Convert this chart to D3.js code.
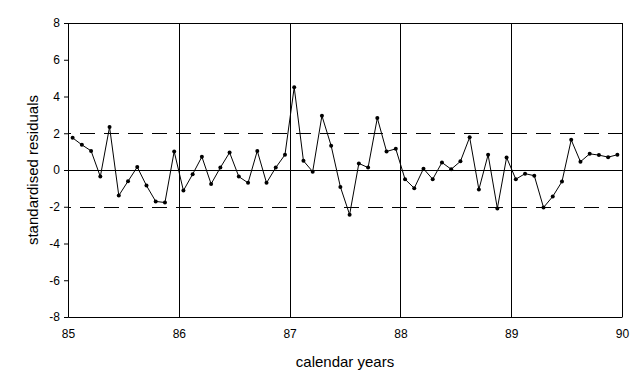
<!DOCTYPE html>
<html>
<head>
<meta charset="utf-8">
<script src="https://cdn.jsdelivr.net/npm/d3@7"></script>
<style>
  body { margin: 0; background: #fff; }
  text { font-family: "Liberation Sans", Arial, sans-serif; fill: #000; }
</style>
</head>
<body>
<div id="chart"></div>
<script>
// monthly standardised residuals, Jan 85 .. Dec 89
var residuals = [
	1.75, 1.37, 1.04, -0.36, 2.34, -1.39, -0.61, 0.16, -0.85, -1.71, -1.77, 1.01,
	-1.12, -0.23, 0.72, -0.76, 0.13, 0.95, -0.36, -0.70, 1.04, -0.70, 0.13, 0.83,
	4.50, 0.50, -0.09, 2.95, 1.32, -0.92, -2.43, 0.36, 0.13, 2.83, 1.01, 1.15,
	-0.50, -0.99, 0.07, -0.50, 0.41, 0.04, 0.47, 1.78, -1.06, 0.83, -2.09, 0.68,
	-0.50, -0.20, -0.31, -2.04, -1.44, -0.63, 1.64, 0.45, 0.88, 0.81, 0.70, 0.83
];
var startYear = 85;
var yearTicks = [85, 86, 87, 88, 89, 90];
var yTicks = [-8, -6, -4, -2, 0, 2, 4, 6, 8];
var limits = [-2, 2];

var totwidth = 641,
	totheight = 384,
	padLeft = 68,
	padRight = 622,
	padTop = 23,
	padBottom = 317;

var svg = d3.select("#chart").append("svg")
	.attr("width", totwidth)
	.attr("height", totheight);

var x = d3.scaleLinear().domain([85, 90]).range([padLeft, padRight]);
var y = d3.scaleLinear().domain([-8, 8]).range([padBottom, padTop]);

// plain hyphen minus, like the original
var fmt = function(d) { return String(d); };

// y axis
var yAxis = d3.axisLeft(y).tickValues(yTicks).tickSize(4).tickPadding(4).tickFormat(fmt);
var gy = svg.append("g")
	.attr("transform", "translate(" + padLeft + ",0)")
	.call(yAxis);
gy.select(".domain").attr("stroke", "#000");
gy.selectAll(".tick line").attr("stroke", "#000");
gy.selectAll("text").style("font-size", "12px").style("font-family", "Liberation Sans, Arial, sans-serif");

// x axis (labels only, lines are the year grid)
var xAxis = d3.axisBottom(x).tickValues(yearTicks).tickSize(0).tickPadding(12).tickFormat(fmt);
var gx = svg.append("g")
	.attr("transform", "translate(0," + padBottom + ")")
	.call(xAxis);
gx.select(".domain").attr("stroke", "#000");
gx.selectAll("text").style("font-size", "12px").style("font-family", "Liberation Sans, Arial, sans-serif");

// top border
svg.append("line")
	.attr("x1", x(85)).attr("x2", x(90))
	.attr("y1", y(8) + 0.5).attr("y2", y(8) + 0.5)
	.attr("stroke", "#000");

// year grid lines
svg.append("g").selectAll("line")
	.data(yearTicks.slice(1))
	.enter().append("line")
		.attr("x1", function(d) { return Math.round(x(d)) + 0.5; })
		.attr("x2", function(d) { return Math.round(x(d)) + 0.5; })
		.attr("y1", y(8))
		.attr("y2", y(-8))
		.attr("stroke", "#000");

// zero line
svg.append("line")
	.attr("x1", x(85)).attr("x2", x(90))
	.attr("y1", Math.round(y(0)) + 0.5).attr("y2", Math.round(y(0)) + 0.5)
	.attr("stroke", "#000");

// +/- 2 limits
svg.append("g").selectAll("line")
	.data(limits)
	.enter().append("line")
		.attr("x1", x(85)).attr("x2", x(90))
		.attr("y1", function(d) { return Math.round(y(d)) + 0.5; })
		.attr("y2", function(d) { return Math.round(y(d)) + 0.5; })
		.attr("stroke", "#000")
		.attr("stroke-dasharray", "15,9")
		.attr("stroke-dashoffset", 12);

// series
var pts = residuals.map(function(v, i) {
	return { t: startYear + (i + 0.5) / 12, v: v };
});

var line = d3.line()
	.x(function(d) { return x(d.t); })
	.y(function(d) { return y(d.v); });

svg.append("path")
	.datum(pts)
	.attr("d", line)
	.attr("fill", "none")
	.attr("stroke", "#000")
	.attr("stroke-width", 1);

svg.append("g").selectAll("circle")
	.data(pts)
	.enter().append("circle")
		.attr("cx", function(d) { return x(d.t); })
		.attr("cy", function(d) { return y(d.v); })
		.attr("r", 2)
		.attr("fill", "#000");

// axis titles
svg.append("text")
	.attr("x", (padLeft + padRight) / 2)
	.attr("y", 367)
	.attr("text-anchor", "middle")
	.style("font-size", "15px")
	.text("calendar years");

svg.append("text")
	.attr("transform", "translate(38," + y(0) + ") rotate(-90)")
	.attr("text-anchor", "middle")
	.style("font-size", "15px")
	.text("standardised residuals");
</script>
</body>
</html>
